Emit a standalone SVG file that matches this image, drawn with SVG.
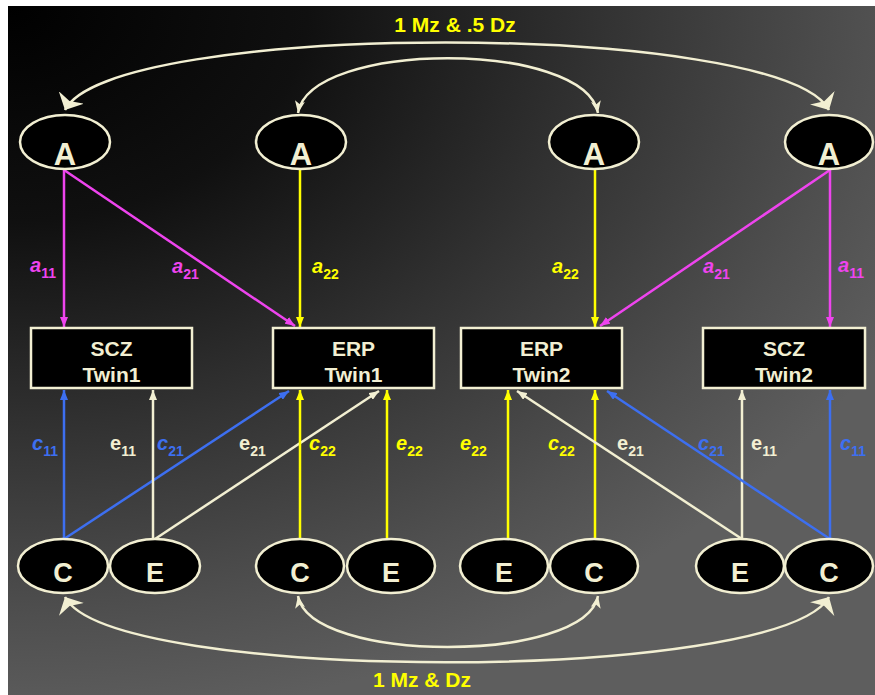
<svg xmlns="http://www.w3.org/2000/svg" width="875" height="695" viewBox="0 0 875 695">
<defs>
<radialGradient id="bg" gradientUnits="userSpaceOnUse" cx="8" cy="6" r="1000" gradientTransform="translate(8 6) scale(1 0.72) translate(-8 -6)">
<stop offset="0" stop-color="#000"/>
<stop offset="0.3" stop-color="#101010"/>
<stop offset="0.6" stop-color="#333"/>
<stop offset="0.85" stop-color="#4f4f4f"/>
<stop offset="1" stop-color="#5e5e5e"/>
</radialGradient>
<marker id="mM" viewBox="0 0 10 8" refX="10" refY="4" markerWidth="10" markerHeight="8" markerUnits="userSpaceOnUse" orient="auto"><path d="M0,0L10,4L0,8z" fill="#ee44ee"/></marker>
<marker id="mY" viewBox="0 0 10 8" refX="10" refY="4" markerWidth="10" markerHeight="8" markerUnits="userSpaceOnUse" orient="auto"><path d="M0,0L10,4L0,8z" fill="#ffff00"/></marker>
<marker id="mB" viewBox="0 0 10 8" refX="10" refY="4" markerWidth="10" markerHeight="8" markerUnits="userSpaceOnUse" orient="auto"><path d="M0,0L10,4L0,8z" fill="#3d6ff0"/></marker>
<marker id="mW" viewBox="0 0 10 8" refX="10" refY="4" markerWidth="10" markerHeight="8" markerUnits="userSpaceOnUse" orient="auto"><path d="M0,0L10,4L0,8z" fill="#f2efd2"/></marker>
<marker id="mS" viewBox="0 0 12 10" refX="12" refY="5" markerWidth="12" markerHeight="10" markerUnits="userSpaceOnUse" orient="auto-start-reverse"><path d="M0,0L12,5L0,10L3,5z" fill="#f2efd2"/></marker>
<marker id="mL" viewBox="0 0 14 28" refX="14" refY="14" markerWidth="14" markerHeight="28" markerUnits="userSpaceOnUse" orient="auto-start-reverse"><path d="M0,0L14,14L0,28L4,14z" fill="#f2efd2"/></marker>
</defs>
<style>
.n{fill:#000;stroke:#f2efd2;stroke-width:2.5}
.t{font-family:"Liberation Sans",Arial,sans-serif;font-weight:bold;fill:#f2efd2;text-anchor:middle}
.big{font-size:31px}
.mid{font-size:27px}
.box{font-size:21px}
.c{fill:none;stroke-width:2.5}
.m{stroke:#ee44ee}
.y{stroke:#ffff00}
.b{stroke:#3d6ff0}
.w{stroke:#f2efd2}
.arc{fill:none;stroke:#f2efd2;stroke-width:2.5}
.lab{font-family:"Liberation Sans",Arial,sans-serif;font-weight:bold;font-size:20px}
.it{font-style:italic}
.sub{font-size:14px;font-style:normal}
.ttl{font-family:"Liberation Sans",Arial,sans-serif;font-weight:bold;font-size:21px;fill:#ffff00;text-anchor:middle}
</style>
<rect x="0" y="0" width="875" height="695" fill="#fff"/>
<rect x="8" y="6" width="867" height="689" fill="url(#bg)"/>

<g id="connectors">
<path class="arc" d="M65,110 C110,20 780,20 829,110" marker-start="url(#mL)" marker-end="url(#mL)"/>
<path class="arc" d="M298,113 C310,40 585,40 598,113" marker-start="url(#mS)" marker-end="url(#mS)"/>
<path class="arc" d="M65,597 C110,684 780,684 829,597" marker-start="url(#mL)" marker-end="url(#mL)"/>
<path class="arc" d="M298,596 C310,664 585,664 598,596" marker-start="url(#mS)" marker-end="url(#mS)"/>

<path class="c m" d="M64,170 L64,327" marker-end="url(#mM)"/>
<path class="c m" d="M64,170 L295,326" marker-end="url(#mM)"/>
<path class="c y" d="M300,170 L300,327" marker-end="url(#mY)"/>
<path class="c y" d="M595,170 L595,327" marker-end="url(#mY)"/>
<path class="c m" d="M830,170 L600,326" marker-end="url(#mM)"/>
<path class="c m" d="M830,170 L830,327" marker-end="url(#mM)"/>

<path class="c b" d="M64,539 L64,390" marker-end="url(#mB)"/>
<path class="c b" d="M64,539 L289,391" marker-end="url(#mB)"/>
<path class="c w" d="M153,539 L153,390" marker-end="url(#mW)"/>
<path class="c w" d="M155,539 L379,391" marker-end="url(#mW)"/>
<path class="c y" d="M300,539 L300,390" marker-end="url(#mY)"/>
<path class="c y" d="M387,539 L387,390" marker-end="url(#mY)"/>
<path class="c y" d="M508,539 L508,390" marker-end="url(#mY)"/>
<path class="c y" d="M595,539 L595,390" marker-end="url(#mY)"/>
<path class="c w" d="M742,539 L517,391" marker-end="url(#mW)"/>
<path class="c w" d="M742,539 L742,390" marker-end="url(#mW)"/>
<path class="c b" d="M830,539 L607,391" marker-end="url(#mB)"/>
<path class="c b" d="M830,539 L830,390" marker-end="url(#mB)"/>

<text class="ttl" x="455" y="32">1 Mz &amp; .5 Dz</text>
<text class="ttl" x="422" y="687">1 Mz &amp; Dz</text>

<g class="lab" fill="#ee44ee">
<text x="30" y="272"><tspan class="it">a</tspan><tspan class="sub" dy="6">11</tspan></text>
<text x="172" y="273"><tspan class="it">a</tspan><tspan class="sub" dy="6">21</tspan></text>
<text x="703" y="273"><tspan class="it">a</tspan><tspan class="sub" dy="6">21</tspan></text>
<text x="838" y="272"><tspan class="it">a</tspan><tspan class="sub" dy="6">11</tspan></text>
</g>
<g class="lab" fill="#ffff00">
<text x="312" y="273"><tspan class="it">a</tspan><tspan class="sub" dy="6">22</tspan></text>
<text x="552" y="273"><tspan class="it">a</tspan><tspan class="sub" dy="6">22</tspan></text>
<text x="309" y="450"><tspan class="it">c</tspan><tspan class="sub" dy="6">22</tspan></text>
<text x="396" y="450"><tspan class="it">e</tspan><tspan class="sub" dy="6">22</tspan></text>
<text x="460" y="450"><tspan class="it">e</tspan><tspan class="sub" dy="6">22</tspan></text>
<text x="548" y="450"><tspan class="it">c</tspan><tspan class="sub" dy="6">22</tspan></text>
</g>
<g class="lab" fill="#3d6ff0">
<text x="32" y="450"><tspan class="it">c</tspan><tspan class="sub" dy="6">11</tspan></text>
<text x="157" y="450"><tspan class="it">c</tspan><tspan class="sub" dy="6">21</tspan></text>
<text x="698" y="450"><tspan class="it">c</tspan><tspan class="sub" dy="6">21</tspan></text>
<text x="840" y="450"><tspan class="it">c</tspan><tspan class="sub" dy="6">11</tspan></text>
</g>
<g class="lab" fill="#f2efd2">
<text x="110" y="450">e<tspan class="sub" dy="6">11</tspan></text>
<text x="239" y="450">e<tspan class="sub" dy="6">21</tspan></text>
<text x="617" y="450">e<tspan class="sub" dy="6">21</tspan></text>
<text x="751" y="450">e<tspan class="sub" dy="6">11</tspan></text>
</g>
</g>

<g id="A1"><ellipse class="n" cx="65" cy="142" rx="45" ry="27"/><text class="t big" x="65" y="165">A</text></g>
<g id="A2"><ellipse class="n" cx="301" cy="142" rx="45" ry="27"/><text class="t big" x="301" y="165">A</text></g>
<g id="A3"><ellipse class="n" cx="594" cy="142" rx="45" ry="27"/><text class="t big" x="594" y="165">A</text></g>
<g id="A4"><ellipse class="n" cx="829" cy="142" rx="44" ry="27"/><text class="t big" x="829" y="165">A</text></g>

<g id="SCZ1"><rect class="n" x="31" y="328" width="161" height="60"/><text class="t box" x="111.5" y="356">SCZ</text><text class="t box" x="111.5" y="382">Twin1</text></g>
<g id="ERP1"><rect class="n" x="273" y="328" width="161" height="60"/><text class="t box" x="353.5" y="356">ERP</text><text class="t box" x="353.5" y="382">Twin1</text></g>
<g id="ERP2"><rect class="n" x="461" y="328" width="161" height="60"/><text class="t box" x="541.5" y="356">ERP</text><text class="t box" x="541.5" y="382">Twin2</text></g>
<g id="SCZ2"><rect class="n" x="703" y="328" width="162" height="60"/><text class="t box" x="784" y="356">SCZ</text><text class="t box" x="784" y="382">Twin2</text></g>

<g id="C1"><ellipse class="n" cx="63" cy="566" rx="45" ry="27"/><text class="t mid" x="63" y="582">C</text></g>
<g id="E1"><ellipse class="n" cx="155" cy="566" rx="45" ry="27"/><text class="t mid" x="155" y="582">E</text></g>
<g id="C2"><ellipse class="n" cx="300" cy="566" rx="44" ry="27"/><text class="t mid" x="300" y="582">C</text></g>
<g id="E2"><ellipse class="n" cx="391" cy="566" rx="44" ry="27"/><text class="t mid" x="391" y="582">E</text></g>
<g id="E3"><ellipse class="n" cx="504" cy="566" rx="44" ry="27"/><text class="t mid" x="504" y="582">E</text></g>
<g id="C3"><ellipse class="n" cx="594" cy="566" rx="44" ry="27"/><text class="t mid" x="594" y="582">C</text></g>
<g id="E4"><ellipse class="n" cx="740" cy="566" rx="44" ry="27"/><text class="t mid" x="740" y="582">E</text></g>
<g id="C4"><ellipse class="n" cx="829" cy="566" rx="44" ry="27"/><text class="t mid" x="829" y="582">C</text></g>
</svg>
